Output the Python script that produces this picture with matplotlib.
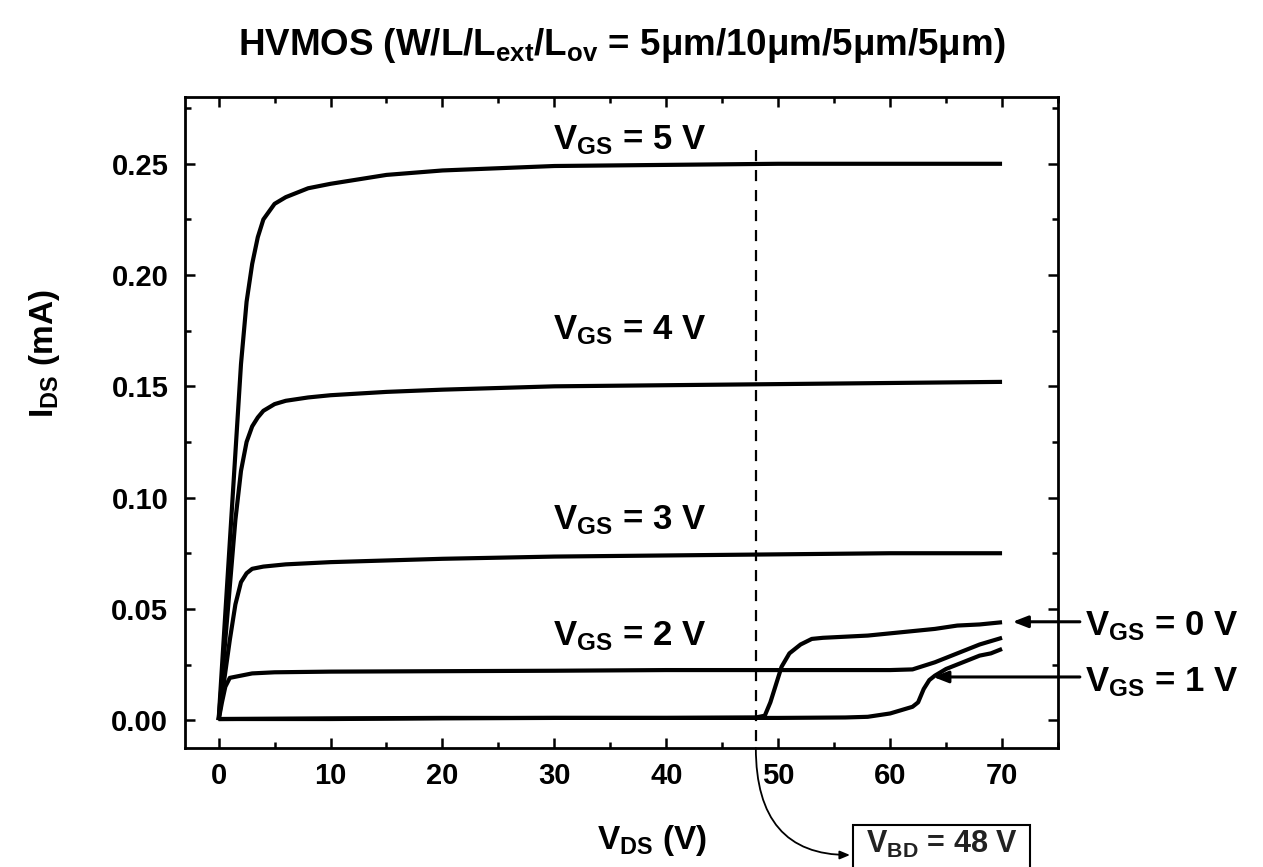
import matplotlib
matplotlib.use("Agg")
import matplotlib.pyplot as plt
from matplotlib.patches import Rectangle
from matplotlib.ticker import MultipleLocator

plt.rcParams['font.family'] = ['Liberation Sans', 'DejaVu Sans']
plt.rcParams['font.weight'] = 'bold'
plt.rcParams['mathtext.fontset'] = 'custom'
plt.rcParams['mathtext.rm'] = 'Liberation Sans:bold'
plt.rcParams['mathtext.it'] = 'Liberation Sans:bold'
plt.rcParams['mathtext.bf'] = 'Liberation Sans:bold'

# I-V curves (V_DS in V, I_DS in mA)
vds_5 = [0, 0.5, 1, 1.5, 2, 2.5, 3, 3.5, 4, 5, 6, 8, 10, 15, 20, 30, 40, 50, 60, 70]
ids_5 = [0, 0.04, 0.08, 0.12, 0.16, 0.188, 0.205, 0.217, 0.225, 0.232, 0.235, 0.239,
         0.241, 0.245, 0.247, 0.249, 0.2495, 0.25, 0.25, 0.25]

vds_4 = [0, 0.5, 1, 1.5, 2, 2.5, 3, 3.5, 4, 5, 6, 8, 10, 15, 20, 30, 40, 50, 60, 70]
ids_4 = [0, 0.03, 0.06, 0.09, 0.112, 0.125, 0.132, 0.136, 0.139, 0.142, 0.1435, 0.145,
         0.146, 0.1475, 0.1485, 0.150, 0.1505, 0.151, 0.1515, 0.152]

vds_3 = [0, 0.5, 1, 1.5, 2, 2.5, 3, 4, 6, 10, 20, 30, 40, 50, 60, 70]
ids_3 = [0, 0.018, 0.036, 0.052, 0.062, 0.066, 0.068, 0.069, 0.070, 0.071, 0.0725,
         0.0735, 0.074, 0.0745, 0.075, 0.075]

vds_2 = [0, 0.3, 0.6, 1, 2, 3, 5, 10, 20, 30, 40, 50, 60, 62, 64, 66, 68, 70]
ids_2 = [0, 0.008, 0.015, 0.019, 0.020, 0.021, 0.0215, 0.0218, 0.022, 0.0222, 0.0225,
         0.0225, 0.0225, 0.0228, 0.026, 0.030, 0.034, 0.037]

vds_1 = [0, 10, 20, 30, 40, 50, 56, 58, 60, 61, 62, 62.5, 63, 63.5, 64, 65, 66, 67, 68, 69, 70]
ids_1 = [0.0005, 0.0008, 0.001, 0.001, 0.001, 0.001, 0.0012, 0.0015, 0.003, 0.0045, 0.006,
         0.008, 0.014, 0.018, 0.020, 0.023, 0.025, 0.027, 0.029, 0.030, 0.032]

vds_0 = [0, 10, 20, 30, 40, 48, 48.8, 49.3, 49.8, 50.3, 51, 52, 53, 54, 56, 58, 60, 62,
         64, 66, 68, 70]
ids_0 = [0.0005, 0.0005, 0.0008, 0.001, 0.001, 0.0012, 0.002, 0.008, 0.016, 0.024, 0.030,
         0.034, 0.0365, 0.037, 0.0375, 0.038, 0.039, 0.040, 0.041, 0.0425, 0.043, 0.044]

v_bd = 48

fig = plt.figure(figsize=(12.63, 8.67), dpi=100)
ax = fig.add_axes([0.1465, 0.1373, 0.6912, 0.7508])

for x, y in [(vds_5, ids_5), (vds_4, ids_4), (vds_3, ids_3),
             (vds_2, ids_2), (vds_1, ids_1), (vds_0, ids_0)]:
    ax.plot(x, y, color='black', lw=3, solid_capstyle='butt')

ax.plot([v_bd, v_bd], [0.256, -0.0125], color='black', lw=1.6, ls=(0, (5, 4)))

ax.set_xlim(-3, 75)
ax.set_ylim(-0.0125, 0.28)
ax.xaxis.set_major_locator(MultipleLocator(10))
ax.xaxis.set_minor_locator(MultipleLocator(5))
ax.yaxis.set_major_locator(MultipleLocator(0.05))
ax.yaxis.set_minor_locator(MultipleLocator(0.025))
ax.yaxis.set_major_formatter(plt.FormatStrFormatter('%.2f'))
ax.tick_params(which='both', direction='in', top=True, right=True, width=1.8)
ax.tick_params(which='major', length=7, labelsize=21)
ax.tick_params(axis='x', which='major', pad=10)
ax.tick_params(axis='y', which='major', pad=12)
ax.tick_params(which='minor', length=4)
for s in ax.spines.values():
    s.set_linewidth(2)

ax.set_title(r'HVMOS (W/L/L$_{\mathrm{ext}}$/L$_{\mathrm{ov}}$ = 5μm/10μm/5μm/5μm)',
             fontsize=26.5, fontweight='bold', pad=30)
ax.set_xlabel(r'V$_{\mathrm{DS}}$ (V)', fontsize=24, fontweight='bold')
ax.xaxis.set_label_coords(0.535, -0.115)
ax.set_ylabel(r'I$_{\mathrm{DS}}$ (mA)', fontsize=24, fontweight='bold')
ax.yaxis.set_label_coords(-0.141, 0.605)

lab = dict(fontsize=25, fontweight='bold', ha='center', va='baseline')
ax.text(36.7, 0.2563, r'V$_{\mathrm{GS}}$ = 5 V', **lab)
ax.text(36.7, 0.171, r'V$_{\mathrm{GS}}$ = 4 V', **lab)
ax.text(36.7, 0.0857, r'V$_{\mathrm{GS}}$ = 3 V', **lab)
ax.text(36.7, 0.0338, r'V$_{\mathrm{GS}}$ = 2 V', **lab)

side = dict(fontsize=25, fontweight='bold', ha='left', va='baseline', clip_on=False)
ax.text(77.4, 0.0379, r'V$_{\mathrm{GS}}$ = 0 V', **side)
ax.text(77.4, 0.0131, r'V$_{\mathrm{GS}}$ = 1 V', **side)

arr = dict(arrowstyle='-|>,head_length=0.9,head_width=0.35', color='black', lw=2.2)
ax.annotate('', xy=(70.7, 0.0442), xytext=(77.2, 0.0442), arrowprops=arr,
            annotation_clip=False)
ax.annotate('', xy=(63.6, 0.0194), xytext=(77.2, 0.0194), arrowprops=arr,
            annotation_clip=False)

# V_BD box at the bottom edge
fig.patches.append(Rectangle((853 / 1263, 1 - 900 / 867), 177 / 1263, 75 / 867,
                             transform=fig.transFigure, fill=False, lw=1.5,
                             edgecolor='black'))
fig.text(866 / 1263, 1 - 853 / 867, r'V$_{\mathrm{BD}}$ = 48 V', fontsize=22,
         fontweight='bold', ha='left', va='baseline', color='#222222')
ax.annotate('', xy=(850, 867 - 855), xycoords='figure pixels',
            xytext=(v_bd, -0.0125), textcoords='data',
            arrowprops=dict(arrowstyle='-|>,head_length=0.6,head_width=0.25',
                            color='black', lw=1.3, shrinkA=0, shrinkB=0,
                            connectionstyle='angle3,angleA=-90,angleB=0'),
            annotation_clip=False)

fig.savefig('out.png', dpi=100)
